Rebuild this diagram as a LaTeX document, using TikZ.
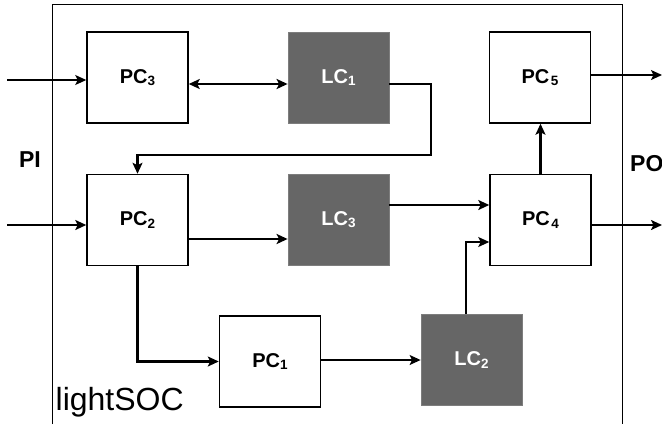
\documentclass[tikz,border=0pt]{standalone}
\usepackage{fontspec}
\setmainfont{Liberation Sans}
\usetikzlibrary{arrows.meta}

% lowered, smaller index digit
\newcommand\idx[1]{\raisebox{-2.8pt}{\fontsize{13.5}{13.5}\selectfont #1}}

\tikzset{
  tip/.style={-{Stealth[length=11pt,width=10pt,inset=2.5pt]}},
  block/.style={minimum width=101pt, minimum height=91pt, inner sep=0pt,
    font=\fontsize{20}{20}\selectfont\bfseries},
  pcbox/.style={block, draw=black, line width=1.5pt, fill=white},
  lcbox/.style={block, fill=lcgray, draw=lcedge, line width=0.8pt, text=white},
  thinwire/.style={line width=1.3pt, tip},
  thickwire/.style={line width=2.5pt, tip},
  side/.style={font=\fontsize{23}{23}\selectfont\bfseries, inner sep=0pt},
}
\definecolor{lcgray}{RGB}{102,102,102}
\definecolor{lcedge}{RGB}{125,125,125}

\begin{document}
\begin{tikzpicture}[x=1pt, y=-1pt]
  \useasboundingbox (0,0) rectangle (662,424);

  % chip outline, open at the bottom
  \draw[line width=1.4pt] (52.5,424) -- (52.5,4.5) -- (622.5,4.5) -- (622.5,424);

  % processing and logic cores
  \node[pcbox] (pc3) at (137.5,77.5) {PC\idx{3}};
  \node[lcbox] (lc1) at (338.5,77.5) {LC\idx{1}};
  \node[pcbox] (pc5) at (540,77.5)   {PC\kern1.5pt\idx{5}};
  \node[pcbox] (pc2) at (137.5,220)  {PC\idx{2}};
  \node[lcbox] (lc3) at (338.5,219.5){LC\idx{3}};
  \node[pcbox] (pc4) at (540.5,220)  {PC\kern1.5pt\idx{4}};
  \node[pcbox] (pc1) at (270,361.5)  {PC\idx{1}};
  \node[lcbox] (lc2) at (471.5,360)  {LC\idx{2}};

  % port labels and chip name
  \node[side, anchor=center] (pi) at (30,160) {PI};
  \node[side, anchor=west] (po) at (630,164) {PO};
  \node[font=\fontsize{32}{32}\selectfont, anchor=base west, inner sep=0pt]
    (name) at (55.5,410) {lightSOC};

  % free ends of the primary inputs and outputs
  \coordinate (in3) at (7,80);
  \coordinate (in2) at (7,225);
  \coordinate (out5) at (662,75);
  \coordinate (out4) at (662,225);
  \coordinate (bend) at (431,155);

  % connections
  \draw[thinwire] (in3) -- (in3 -| pc3.west);
  \draw[thickwire] (in2) -- (in2 -| pc2.west);
  \draw[line width=2.5pt, {Stealth[length=11pt,width=10pt,inset=2.5pt]}-{Stealth[length=11pt,width=10pt,inset=2.5pt]}]
    ([yshift=-6.5pt]pc3.east) -- ([yshift=-6.5pt]lc1.west);
  \draw[thickwire] ([yshift=-6.5pt]lc1.east) -| (bend) -| (pc2.north);
  \draw[thickwire] ([yshift=-19pt]pc2.east) -- ([yshift=-19pt]pc2.east -| lc3.west);
  \draw[thickwire] ([yshift=14.5pt]lc3.east) -- ([yshift=14.5pt]lc3.east -| pc4.west);
  \draw[thickwire] (pc2.south) |- (pc1.west);
  \draw[thinwire] (lc2.west -| pc1.east) -- (lc2.west);
  \draw[thinwire] ([xshift=-5.5pt]lc2.north) |- ([yshift=-22pt]pc4.west);
  \draw[thickwire] (pc4.north) -- (pc4.north |- pc5.south);
  \draw[thinwire] (out5 -| pc5.east) -- (out5);
  \draw[thickwire] (out4 -| pc4.east) -- (out4);
\end{tikzpicture}
\end{document}
